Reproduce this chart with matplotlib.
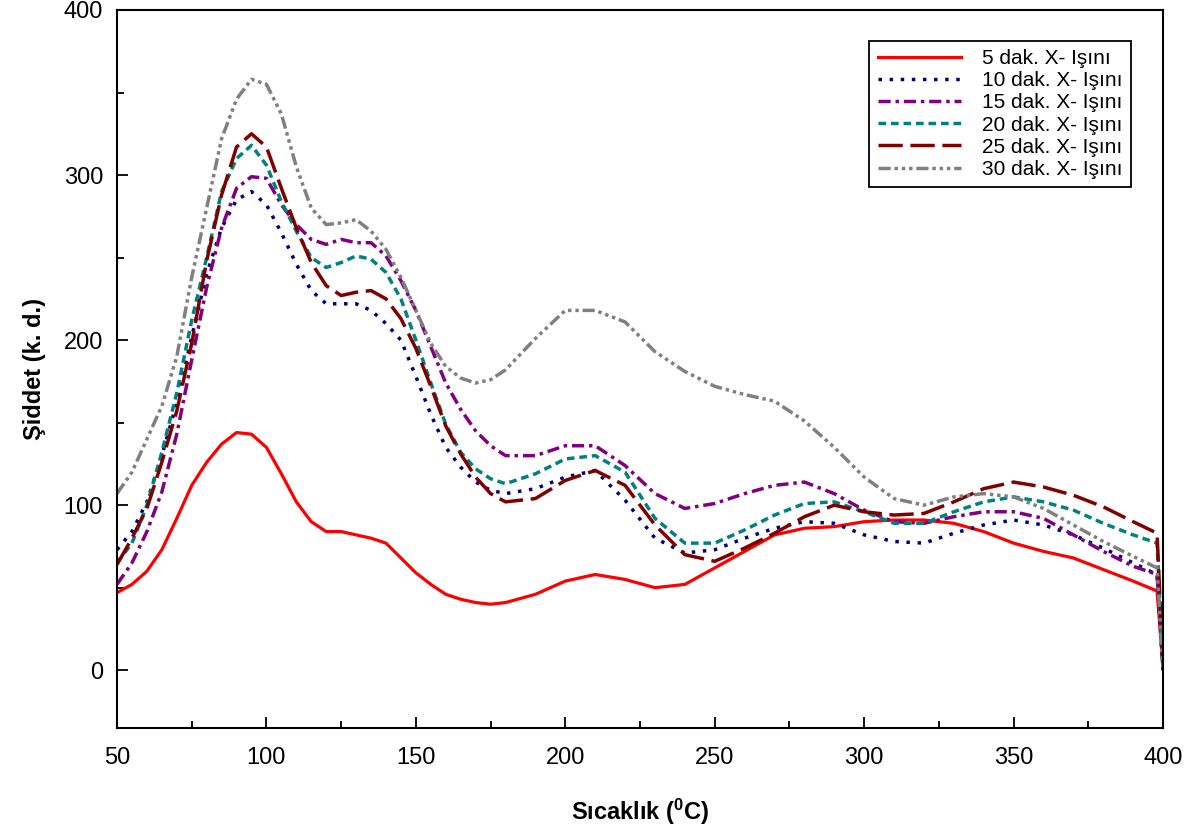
import numpy as np
import matplotlib
matplotlib.use("Agg")
import matplotlib.pyplot as plt
from matplotlib.ticker import MultipleLocator

plt.rcParams['font.family'] = ['Liberation Sans', 'DejaVu Sans']
plt.rcParams['mathtext.fontset'] = 'custom'
plt.rcParams['mathtext.rm'] = 'Liberation Sans'
plt.rcParams['mathtext.bf'] = 'Liberation Sans:bold'

# sicaklik (C)
sicaklik = [50, 55, 60, 65, 70, 75, 80, 85, 90, 95, 100, 105, 110, 115, 120, 125,
            130, 135, 140, 145, 150, 155, 160, 165, 170, 175, 180, 190, 200, 210,
            220, 230, 240, 250, 260, 270, 280, 290, 300, 310, 320, 330, 340, 350,
            360, 370, 380, 390, 398, 400]

# siddet degerleri, her isinlama suresi icin
dak5 = [47, 52, 60, 73, 92, 112, 126, 137, 144, 143, 135, 119, 102, 90, 84, 84,
        82, 80, 77, 68, 59, 52, 46, 43, 41, 40, 41, 46, 54, 58,
        55, 50, 52, 62, 72, 82, 86, 87, 90, 91, 91, 89, 84, 77,
        72, 68, 61, 54, 48, 2]
dak10 = [73, 84, 102, 130, 162, 202, 240, 268, 285, 290, 282, 265, 246, 230, 222, 222,
         222, 218, 210, 200, 178, 155, 135, 123, 114, 109, 107, 110, 117, 121,
         103, 80, 71, 73, 80, 86, 90, 89, 82, 78, 77, 83, 88, 91,
         88, 82, 74, 65, 58, 0]
dak15 = [52, 65, 84, 108, 143, 188, 232, 268, 292, 299, 298, 282, 270, 261, 258, 261,
         259, 259, 251, 236, 218, 196, 174, 158, 145, 136, 130, 130, 136, 136,
         124, 107, 98, 101, 107, 112, 114, 107, 97, 90, 89, 93, 96, 96,
         92, 82, 72, 63, 58, 0]
dak20 = [65, 77, 100, 132, 168, 212, 250, 290, 310, 318, 306, 284, 266, 250, 244, 247,
         251, 249, 241, 225, 200, 174, 149, 132, 122, 116, 113, 119, 128, 130,
         120, 92, 77, 77, 85, 94, 101, 102, 96, 89, 89, 96, 102, 105,
         102, 97, 89, 82, 77, 0]
dak25 = [64, 80, 98, 126, 157, 198, 248, 288, 317, 325, 317, 292, 268, 247, 233, 227,
         229, 230, 225, 213, 195, 172, 148, 131, 117, 107, 102, 104, 115, 121,
         112, 88, 70, 66, 74, 83, 93, 100, 96, 94, 95, 102, 110, 114,
         111, 106, 99, 90, 83, 0]
dak30 = [107, 120, 140, 160, 190, 238, 280, 322, 346, 358, 355, 337, 305, 280, 270, 271,
         273, 266, 255, 238, 218, 198, 184, 177, 174, 176, 182, 201, 218, 218,
         211, 193, 181, 172, 167, 163, 151, 135, 117, 104, 100, 105, 107, 105,
         98, 88, 78, 69, 62, 0]

etiketler = ['5 dak. X- Işını', '10 dak. X- Işını', '15 dak. X- Işını',
             '20 dak. X- Işını', '25 dak. X- Işını', '30 dak. X- Işını']

fig = plt.figure(figsize=(12, 8.32), dpi=100)
ax = fig.add_axes([0.0975, 0.125, 0.8717, 0.863])

lw = 2.5
ax.plot(sicaklik, dak5, color='#ff0000', lw=2.3, linestyle='-', label=etiketler[0])
ax.plot(sicaklik, dak10, color='#000080', lw=lw, linestyle=(0, (1, 2.2)), label=etiketler[1])
ax.plot(sicaklik, dak15, color='#800080', lw=lw, linestyle=(0, (3.5, 1.4, 1, 1.4)), label=etiketler[2])
ax.plot(sicaklik, dak20, color='#008080', lw=lw, linestyle=(0, (2.2, 1.4)), label=etiketler[3])
ax.plot(sicaklik, dak25, color='#800000', lw=lw, linestyle=(0, (7, 2.2)), label=etiketler[4])
ax.plot(sicaklik, dak30, color='#808080', lw=lw,
        linestyle=(0, (3.5, 1.1, 1, 1.1, 1, 1.1, 1, 1.1)), label=etiketler[5])

ax.set_xlim(50, 400)
ax.set_ylim(-35, 400)
ax.xaxis.set_major_locator(MultipleLocator(50))
ax.xaxis.set_minor_locator(MultipleLocator(25))
ax.yaxis.set_major_locator(MultipleLocator(100))
ax.yaxis.set_minor_locator(MultipleLocator(50))
ax.tick_params(which='both', direction='in', width=1.3, labelsize=17)
ax.tick_params(which='major', length=8)
ax.tick_params(which='minor', length=5)
ax.tick_params(axis='x', which='major', pad=14)
ax.tick_params(axis='y', which='major', pad=10)
for s in ax.spines.values():
    s.set_linewidth(1.5)

ax.set_xlabel(r'Sıcaklık ($\mathbf{^{0}}$C)', fontsize=17, fontweight='bold', labelpad=20)
ax.set_ylabel('Şiddet (k. d.)', fontsize=17, fontweight='bold', labelpad=13)

leg = ax.legend(loc='upper right', bbox_to_anchor=(0.969, 0.957), borderaxespad=0,
                fontsize=15, handlelength=4.0, handletextpad=1.0, labelspacing=0.15,
                borderpad=0.4, fancybox=False, framealpha=1, edgecolor='black')
leg.get_frame().set_linewidth(1.3)

fig.savefig('out.png', dpi=100)
